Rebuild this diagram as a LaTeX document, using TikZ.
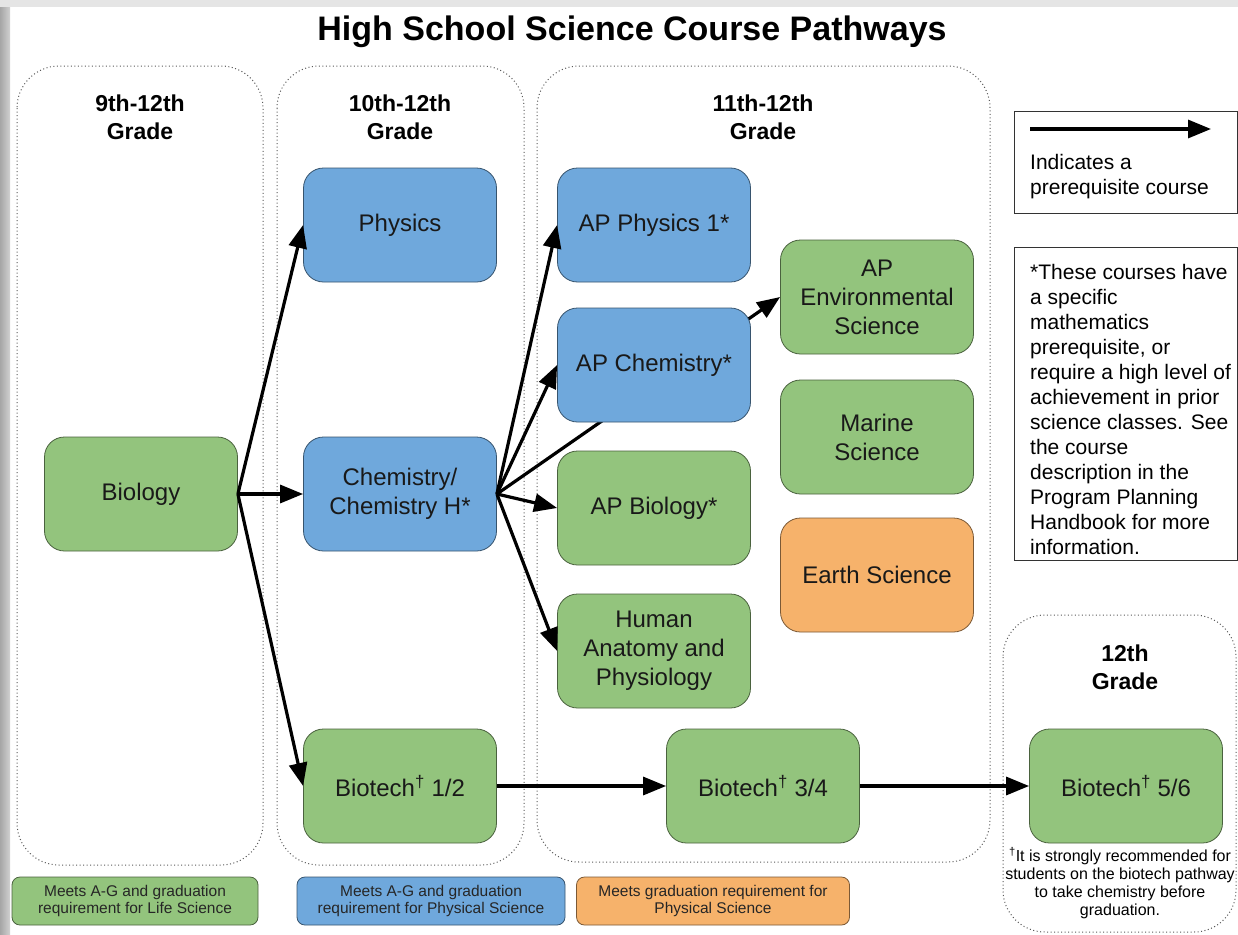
\documentclass[tikz,border=0pt]{standalone}
\usepackage{fontspec}
\setmainfont{Liberation Sans}
\usetikzlibrary{arrows.meta,backgrounds}
\definecolor{lifegreen}{HTML}{93C47D}
\definecolor{physblue}{HTML}{6FA8DC}
\definecolor{gradorange}{HTML}{F6B26B}
\begin{document}
\begin{tikzpicture}[x=1pt,y=-1pt]

	\tikzstyle{course} = [rectangle,rounded corners=20pt,minimum width=193pt,minimum height=114pt,align=center,text=black!90,font=\fontsize{24}{29}\selectfont,line width=0.8pt]
	\tikzstyle{life} = [course,fill=lifegreen,draw=lifegreen!50!black]
	\tikzstyle{physical} = [course,fill=physblue,draw=physblue!50!black]
	\tikzstyle{gradonly} = [course,fill=gradorange,draw=gradorange!50!black]
	\tikzstyle{key} = [rectangle,rounded corners=8pt,minimum height=48pt,align=center,text=black!85,font=\fontsize{15.5}{17}\selectfont,line width=0.8pt]
	\tikzstyle{gradecol} = [draw=black!65,line width=1pt,dash pattern=on 1pt off 2.5pt,rounded corners=42pt]
	\tikzstyle{grade} = [align=center,font=\bfseries\fontsize{23}{28}\selectfont]
	\tikzstyle{notebox} = [rectangle,draw=black!80,line width=1pt]
	\tikzstyle{notetext} = [align=left,inner sep=0pt,font=\fontsize{21}{25}\selectfont]
	\tikzstyle{prereq} = [-{Triangle[length=23pt,width=18pt]},line width=3.2pt]

	\useasboundingbox (0,0) rectangle (1238,934);

	\node[font=\bfseries\fontsize{34}{40}\selectfont] (title) at (632,32) {High School Science Course Pathways};

	% course boxes
	\node[life] (bio) at (141,494) {Biology};
	\node[physical] (phy) at (400,225) {Physics};
	\node[physical] (chem) at (400,494) {Chemistry/\\Chemistry H*};
	\node[life] (bt12) at (400,786) {Biotech\textsuperscript{†} 1/2};
	\node[physical] (ap1) at (654,225) {AP Physics 1*};
	\node[physical] (apchem) at (654,365) {AP Chemistry*};
	\node[life] (apbio) at (654,508) {AP Biology*};
	\node[life] (anat) at (654,651) {Human\\Anatomy and\\Physiology};
	\node[life] (apenv) at (877,297) {AP\\Environmental\\Science};
	\node[life] (marine) at (877,437) {Marine\\Science};
	\node[gradonly] (earth) at (877,575) {Earth Science};
	\node[life] (bt34) at (763,786) {Biotech\textsuperscript{†} 3/4};
	\node[life] (bt56) at (1126,786) {Biotech\textsuperscript{†} 5/6};

	% grade headers
	\node[grade] (g9) at (140,117) {9th-12th\\Grade};
	\node[grade] (g10) at (400,117) {10th-12th\\Grade};
	\node[grade] (g11) at (763,117) {11th-12th\\Grade};
	\node[grade] (g12) at (1125,667) {12th\\Grade};

	\begin{pgfonlayer}{background}
		\fill[white] (0,0) rectangle (1238,934);
		\shade[left color=black!35,right color=black!18] (0,0) rectangle (10,934);
		\fill[black!10] (0,0) rectangle (1238,7);
		\draw[gradecol] (17,66) rectangle (263,865);
		\draw[gradecol] (277,66) rectangle (524,865);
		\draw[gradecol] (537,66) rectangle (990,862);
		\draw[gradecol] (1003,615) rectangle (1236,932);
		% runs under AP Chemistry
		\draw[prereq] (chem.east) -- (apenv.west);
	\end{pgfonlayer}

	\draw (bio.east) edge[prereq] (phy.west);
	\draw (bio.east) edge[prereq] (chem.west);
	\draw (bio.east) edge[prereq] (bt12.west);
	\draw (chem.east) edge[prereq] (ap1.west);
	\draw (chem.east) edge[prereq] (apchem.west);
	\draw (chem.east) edge[prereq] (apbio.west);
	\draw (chem.east) edge[prereq] (anat.west);
	\draw (bt12) edge[prereq] (bt34);
	\draw (bt34) edge[prereq] (bt56);

	% side notes
	\node[notebox,minimum width=223pt,minimum height=102pt,anchor=north west] (arrowkey) at (1014,111) {};
	\coordinate (keyfrom) at (1030,129);
	\coordinate (keyto) at (1211,129);
	\draw[prereq] (keyfrom) -- (keyto);
	\node[notetext,anchor=north west] (arrowtext) at (1030,154) {Indicates a\\prerequisite course};

	\node[notebox,minimum width=223pt,minimum height=313pt,anchor=north west] (stars) at (1014,247) {};
	\node[notetext,anchor=north west] (starstext) at (1030,264) {*These courses have\\a specific\\mathematics\\prerequisite, or\\require a high level of\\achievement in prior\\science classes. See\\the course\\description in the\\Program Planning\\Handbook for more\\information.};

	\node[align=center,font=\fontsize{16}{18}\selectfont] (daggernote) at (1120,883) {\textsuperscript{†}It is strongly recommended for\\students on the biotech pathway\\to take chemistry before\\graduation.};

	% colour key
	\node[key,fill=lifegreen,draw=lifegreen!50!black,minimum width=246pt] (keylife) at (135,901) {Meets A-G and graduation\\requirement for Life Science};
	\node[key,fill=physblue,draw=physblue!50!black,minimum width=268pt] (keyphys) at (431,901) {Meets A-G and graduation\\requirement for Physical Science};
	\node[key,fill=gradorange,draw=gradorange!50!black,minimum width=273pt] (keygrad) at (713,901) {Meets graduation requirement for\\Physical Science};

\end{tikzpicture}
\end{document}
